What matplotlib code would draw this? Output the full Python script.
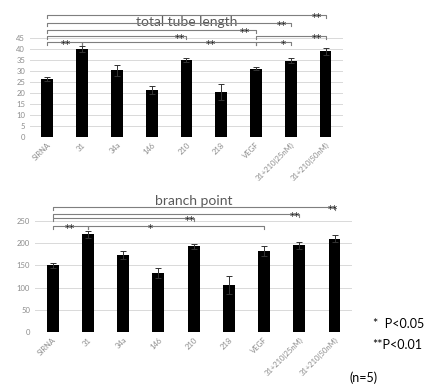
import matplotlib
matplotlib.use("Agg")
import matplotlib.pyplot as plt

plt.rcParams['font.family'] = ['Lato', 'DejaVu Sans']

groups = ['SIRNA', '31', '34a', '146', '210', '218', 'VEGF',
          '31+210(25nM)', '31+210(50nM)']

tube_mean = [26.5, 40.0, 30.5, 21.5, 35.0, 20.5, 31.2, 34.8, 39.0]
tube_err = [1.0, 1.5, 2.5, 1.8, 1.0, 3.5, 0.7, 1.3, 1.5]

branch_mean = [150, 220, 173, 133, 193, 106, 182, 195, 210]
branch_err = [6, 8, 9, 12, 6, 20, 12, 8, 8]

# comparisons: (from, to, label, bracket height, star x)
tube_sig = [(0, 8, '**', 55.5, 7.74),
            (0, 7, '**', 51.8, 6.74),
            (0, 6, '**', 48.6, 5.69),
            (0, 4, '**', 45.9, 3.80),
            (6, 8, '**', 46.2, 7.74),
            (0, 1, '**', 43.2, 0.54),
            (1, 6, '**', 43.2, 4.71),
            (6, 7, '*', 43.2, 6.80)]

branch_sig = [(0, 8, '**', 281, 7.94),
              (0, 7, '**', 266, 6.87),
              (0, 4, '**', 257, 3.89),
              (0, 1, '**', 239, 0.48),
              (1, 6, '*', 239, 2.78)]


def bar_panel(ax, means, errs, sig, ymax, step, top, title, title_y):
    x = range(len(groups))
    ax.bar(x, means, width=0.34, color='black', zorder=3)
    ax.errorbar(x, means, yerr=errs, fmt='none', ecolor='#333333',
                elinewidth=0.7, capsize=2, capthick=0.7, zorder=4)
    ax.set_xlim(-0.5, 8.5)
    ax.set_ylim(0, ymax)
    ticks = list(range(0, top + 1, step))
    ax.set_yticks(ticks)
    for t in ticks:
        ax.axhline(t, color='#d9d9d9', lw=0.7, zorder=0)
    ax.set_xticks(list(x))
    ax.set_xticklabels(groups, rotation=45, ha='right',
                       rotation_mode='anchor', fontsize=5.5, color='#8c8c8c')
    ax.tick_params(axis='y', labelsize=5.5, labelcolor='#8c8c8c', length=0)
    ax.tick_params(axis='x', length=0, pad=3)
    for s in ax.spines.values():
        s.set_visible(False)
    ax.text(4, title_y, title, ha='center', va='center', fontsize=10,
            color='#595959', zorder=1)
    tick = ymax * 0.025
    for i, j, lab, h, sx in sig:
        ax.plot([i, i, j, j], [h - tick, h, h, h - tick], color='#7f7f7f',
                lw=0.8, zorder=2, clip_on=False)
        # star glyph sits high, shift the baseline down so it centres on the line
        ax.annotate(lab, (sx, h), xytext=(0, -4.3), textcoords='offset points',
                    ha='center', va='baseline', fontsize=7.5,
                    family='DejaVu Sans', color='#222222', zorder=5)


fig = plt.figure(figsize=(4.31, 3.85), dpi=100)

ax1 = fig.add_axes([0.0696, 0.644, 0.726, 0.331])
bar_panel(ax1, tube_mean, tube_err, tube_sig, 58, 5, 45,
          'total tube length', 52.5)

ax2 = fig.add_axes([0.081, 0.138, 0.736, 0.334])
bar_panel(ax2, branch_mean, branch_err, branch_sig, 290, 50, 250,
          'branch point', 295)

fig.text(0.866, 0.148, '*  P<0.05', fontsize=9, color='black')
fig.text(0.863, 0.093, '**P<0.01', fontsize=9, color='black')
fig.text(0.810, 0.008, '(n=5)', fontsize=9, color='black')

fig.savefig('out.png', dpi=100)
